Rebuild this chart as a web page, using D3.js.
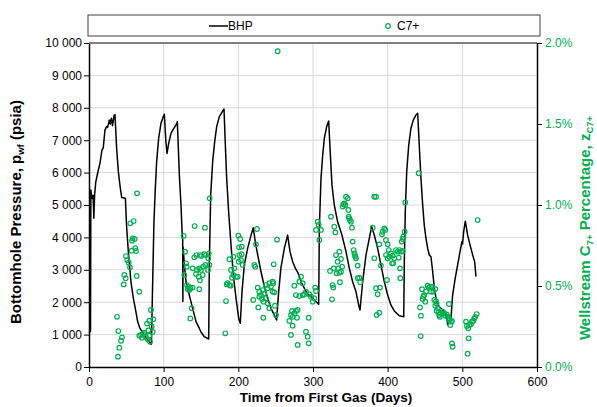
<!DOCTYPE html>
<html>
<head>
<meta charset="utf-8">
<script src="https://cdn.jsdelivr.net/npm/d3@7"></script>
<style>
  body { margin: 0; background: #fff; }
  svg { font-family: "Liberation Sans", Arial, sans-serif; }
</style>
</head>
<body>
<div id="chart"></div>
<script>
// BHP trace (days, psia)
const bhpDay = [0, 2, 2.5, 4, 5.5, 6.5, 7.5, 9, 11.5, 14.7, 17.4, 19, 21.4, 23.5, 25, 27.2, 28.5, 30, 31.5, 33.5, 34.8,
  37, 39.3, 41.5, 43.8, 48.7, 50.5, 53, 56.2, 59.4, 62, 65.2, 68.3, 74, 78.6, 83.5,
  84, 85.3, 87, 88.8, 90.6, 93.3, 96.4, 99.5, 100.9, 103, 104.5, 106.7, 109.8, 113, 116.5, 118.3,
  121, 123.2, 124.6, 125.5, 125.7, 126, 128, 129.9, 134.3, 138.8, 143.3, 147.8, 150, 154.4, 160.3,
  161.2, 163, 165.6, 168.3, 171, 174.6, 177, 179, 180.8, 182.6, 184.4, 187, 190.2, 193.3, 196.9, 200.5, 202.6,
  204.9, 208, 212.5, 217, 220, 222.7, 225.9, 230.4, 234.8, 239.3, 243.7, 248.2, 251.3,
  254, 257, 261.6, 266, 269.2, 272.8, 276.3, 280, 284, 288.4, 293, 297.3, 302, 304, 307.6,
  308.5, 310.7, 313, 315.2, 318.3, 321, 322.8, 325.4, 328.5, 333, 338.8, 344.2, 348.6, 353.1, 357.6, 361.2, 363,
  366.5, 371, 375.4, 378.6, 382.1, 386.6, 391, 395.5, 400, 404.4, 408.9, 415.6, 421.5,
  422.3, 423.6, 425.5, 428.2, 431.2, 434.3, 437.9, 440.2, 442.3, 444.6, 446.9, 449, 451.3, 453.6, 455.7, 458,
  460.3, 462.5, 465.6, 469.1, 473.7, 478, 479.5, 480.4, 482.5, 484.8,
  487, 490.5, 493.7, 496.9, 499.5, 500.3, 501.8, 504, 507.1, 510.3, 513.8, 516.5, 518.3];
const bhpPsi = [1050, 1100, 5460, 5200, 5300, 4590, 5300, 5700, 5980, 6290, 6700, 6750, 7310, 7420, 7400, 7620, 7500, 7680, 7450, 7760, 7790,
  6750, 6030, 5600, 5230, 5210, 4280, 3460, 2630, 2120, 1810, 1400, 1190, 990, 830, 700,
  1200, 2630, 4490, 5510, 6340, 7060, 7520, 7730, 7800, 6950, 6590, 6900, 7210, 7340, 7470, 7570,
  5930, 5000, 4200, 3900, 2020, 3700, 3100, 2630, 2220, 1810, 1400, 1190, 1080, 935, 865,
  3250, 5310, 6340, 6950, 7420, 7730, 7820, 7900, 7960, 6850, 5820, 4790, 3770, 2840, 2120, 1500, 1350,
  2320, 3150, 3660, 4070, 4300, 3870, 3460, 2940, 2480, 2120, 1810, 1600, 1450,
  2320, 3050, 3660, 4070, 3560, 3250, 3050, 2900, 2630, 2430, 2250, 2170, 2070, 2020, 1935,
  4280, 5820, 6540, 7060, 7420, 7590, 6750, 5620, 5000, 4480, 4070, 3560, 3050, 2630, 2320, 1910, 1760,
  2630, 3460, 3970, 4330, 4070, 3660, 3150, 2630, 2220, 1910, 1730, 1580, 1550,
  3250, 4790, 6030, 6850, 7370, 7620, 7780, 7830, 6850, 5820, 5000, 4380, 3970, 3660, 3460, 3400,
  2940, 2430, 2020, 1860, 1760, 1600, 1500, 1300, 1400, 1500,
  2220, 2740, 3150, 3560, 3870, 3800, 4180, 4500, 4070, 3770, 3460, 3250, 2790];

// Wellstream C7+ samples (days, percent)
const c7Day = [64.3, 55.3, 59.8, 58.5, 61.2, 57.6, 62.0, 57.2, 62.9, 49.6, 51.3, 53.2, 54.9, 47.3, 49.1, 46.4, 63.9, 67.4,
  37.5, 39.3, 44.2, 42.9, 40.6, 38.8, 83.0, 86.2, 80.8, 77.7, 85.3, 79.5, 74.1, 69.6, 67.4, 71.0, 76.3, 80.8, 78.6, 81.7, 84.0, 72.5,
  126.8, 128.6, 129.9, 130.8, 127.7, 131.2, 133.5, 135.7, 138.8, 132.2, 134.3, 137.5, 135.7, 141.5, 155.3,
  141.0, 143.7, 148.6, 150.4, 154.4, 156.7, 138.8, 144.6, 147.7, 150.0, 153.1, 155.8, 143.3, 146.9, 148.6, 152.3,
  161.6, 159.8, 161.1, 159.4, 147.7, 160.5,
  183.5, 182.6, 188.0, 193.3, 201.3, 204.5, 190.2, 194.6, 196.9, 199.1, 191.5, 185.7, 188.0, 184.4, 189.7, 193.3,
  200.4, 203.6, 205.8, 200.0, 202.6, 200.9, 204.5, 225.0, 223.6, 221.4, 222.7, 251.8, 247.4,
  225.9, 228.1, 232.6, 237.0, 241.5, 246.0, 243.7, 239.3, 230.4, 228.1, 234.8, 237.0, 239.3, 241.5, 246.0, 248.2,
  231.7, 233.9, 226.7, 220.0, 233.4, 249.1, 250.4, 246.8, 252.7,
  275.0, 277.2, 281.7, 284.0, 286.2, 281.7, 286.2, 288.4, 279.5, 277.2, 275.0, 272.8, 270.5, 271.9, 268.3, 272.8, 270.5, 279.5, 278.6,
  290.6, 295.0, 297.3, 299.6, 301.7, 303.0, 304.0, 294.2, 290.6, 292.9, 294.2,
  306.3, 307.6, 308.5, 304.0, 310.7, 324.1, 328.5, 329.9, 322.8, 327.7, 326.3, 327.2, 325.4,
  330.8, 335.3, 333.0, 337.5, 331.7, 335.3, 339.0, 337.5, 336.1, 333.9,
  339.7, 341.9, 344.2, 346.5, 340.6, 343.3, 347.3, 347.7, 349.5, 350.9, 348.6, 352.2, 353.1, 354.5, 355.3, 356.6, 357.6, 356.2,
  359.8, 359.8, 362.0, 363.3,
  382.1, 384.4, 379.9, 382.1, 388.8, 391.0, 384.4, 389.7, 386.6, 385.2, 388.8, 399.1,
  393.3, 395.5, 396.8, 392.4, 397.7, 400.0, 401.4, 397.7, 402.2, 404.4, 400.0, 406.7, 408.9, 407.5, 405.8,
  411.1, 413.4, 415.6, 417.8, 420.1, 414.8, 416.5, 416.9, 418.8, 421.0, 422.8, 420.1, 423.6, 441.5,
  446.0, 447.7, 446.9, 449.0, 450.4, 451.3, 453.6, 455.0, 456.7, 459.4, 458.0, 461.1, 463.8, 443.3, 444.6, 444.2,
  462.5, 464.7, 465.6, 463.8, 467.0, 465.6, 468.3, 469.1, 470.0, 471.4, 473.7, 475.8, 477.2, 479.0, 480.4, 481.7,
  482.5, 483.9, 484.8, 486.1, 482.1, 486.1, 487.0,
  504.9, 506.2, 508.0, 509.3, 511.6, 512.9, 514.6, 516.0, 517.3, 519.2, 508.5, 507.1, 520.5];
const c7Pct = [1.072, 0.887, 0.901, 0.794, 0.790, 0.780, 0.733, 0.718, 0.716, 0.685, 0.660, 0.644, 0.615, 0.568, 0.548, 0.510, 0.562, 0.465,
  0.310, 0.222, 0.183, 0.162, 0.119, 0.064, 0.352, 0.294, 0.286, 0.268, 0.216, 0.226, 0.212, 0.198, 0.193, 0.181, 0.185, 0.193, 0.171, 0.156, 0.250, 0.205,
  0.809, 0.712, 0.640, 0.619, 0.568, 0.506, 0.496, 0.486, 0.490, 0.480, 0.475, 0.362, 0.300, 0.870, 0.860,
  0.677, 0.691, 0.691, 0.685, 0.696, 0.691, 0.609, 0.599, 0.609, 0.599, 0.619, 0.630, 0.574, 0.557, 0.535, 0.568,
  1.041, 0.671, 0.630, 0.599, 0.480, 0.700,
  0.407, 0.208, 0.665, 0.681, 0.691, 0.696, 0.599, 0.609, 0.557, 0.557, 0.551, 0.517, 0.506, 0.510, 0.502, 0.568,
  0.650, 0.660, 0.630, 0.811, 0.790, 0.739, 0.743, 0.852, 0.757, 0.630, 0.619, 0.786, 0.634,
  0.490, 0.465, 0.475, 0.506, 0.517, 0.527, 0.496, 0.486, 0.444, 0.434, 0.455, 0.424, 0.393, 0.362, 0.465, 0.461,
  0.420, 0.403, 0.368, 0.414, 0.304, 0.378, 0.321, 0.517, 1.949,
  0.502, 0.444, 0.527, 0.557, 0.517, 0.438, 0.444, 0.449, 0.352, 0.346, 0.331, 0.310, 0.321, 0.346, 0.284, 0.255, 0.198, 0.136, 0.304,
  0.465, 0.449, 0.434, 0.403, 0.424, 0.490, 0.469, 0.304, 0.218, 0.187, 0.146,
  0.897, 0.877, 0.784, 0.846, 0.846, 0.928, 0.866, 0.831, 0.593, 0.609, 0.506, 0.490, 0.418,
  0.691, 0.712, 0.650, 0.667, 0.578, 0.582, 0.619, 0.588, 0.523, 0.609,
  0.990, 1.010, 1.051, 1.041, 1.004, 1.000, 0.969, 0.928, 0.907, 0.897, 0.918, 0.860, 0.774, 0.722, 0.702, 0.681, 0.671, 0.691,
  0.626, 0.548, 0.551, 0.523,
  1.051, 1.051, 0.860, 0.671, 0.757, 0.626, 0.486, 0.490, 0.449, 0.321, 0.335, 0.537,
  0.835, 0.856, 0.846, 0.819, 0.784, 0.757, 0.722, 0.691, 0.681, 0.702, 0.671, 0.687, 0.671, 0.640, 0.640,
  0.722, 0.712, 0.722, 0.712, 0.716, 0.675, 0.609, 0.548, 0.774, 0.804, 0.835, 0.790, 1.016, 1.196,
  0.480, 0.434, 0.420, 0.444, 0.403, 0.465, 0.502, 0.490, 0.496, 0.496, 0.465, 0.465, 0.481, 0.368, 0.317, 0.191,
  0.414, 0.407, 0.393, 0.378, 0.362, 0.346, 0.338, 0.321, 0.310, 0.331, 0.341, 0.331, 0.317, 0.325, 0.310, 0.300,
  0.290, 0.259, 0.280, 0.284, 0.389, 0.146, 0.125,
  0.280, 0.253, 0.239, 0.259, 0.264, 0.280, 0.284, 0.300, 0.310, 0.327, 0.177, 0.082, 0.907];

const xTicks = [0, 100, 200, 300, 400, 500, 600];
const psiTicks = [0, 1000, 2000, 3000, 4000, 5000, 6000, 7000, 8000, 9000, 10000];
const pctTicks = [0, 0.5, 1.0, 1.5, 2.0];
const legendLabels = ["BHP", "C7+"];

const WIDTH = 597, HEIGHT = 407;
const margin = { top: 43, right: 60, bottom: 40, left: 89 };
const GREEN = "#00b050";

const svg = d3.select("#chart").append("svg")
  .attr("width", WIDTH).attr("height", HEIGHT);

const x = d3.scaleLinear().domain([0, 600]).range([margin.left, WIDTH - margin.right]);
const yL = d3.scaleLinear().domain([0, 10000]).range([HEIGHT - margin.bottom, margin.top]);
const yR = d3.scaleLinear().domain([0, 2]).range([HEIGHT - margin.bottom, margin.top]);

const fmtPsi = v => v >= 1000 ? d3.format(",")(v).replace(",", " ") : String(v);

// gridlines
const grid = svg.append("g");
grid.selectAll("line.h").data(psiTicks.slice(1, -1)).enter().append("line")
  .attr("x1", x(0)).attr("x2", x(600)).attr("y1", d => yL(d)).attr("y2", d => yL(d))
  .attr("stroke", "#d9d9d9").attr("stroke-width", 1);
grid.selectAll("line.v").data(xTicks.slice(1, -1)).enter().append("line")
  .attr("y1", yL(0)).attr("y2", yL(10000)).attr("x1", d => x(d)).attr("x2", d => x(d))
  .attr("stroke", "#d9d9d9").attr("stroke-width", 1);

// top border
svg.append("line").attr("x1", x(0)).attr("x2", x(600)).attr("y1", yL(10000)).attr("y2", yL(10000))
  .attr("stroke", "#595959").attr("stroke-width", 1.5);

// axes
const axB = svg.append("g").attr("transform", `translate(0,${yL(0)})`)
  .call(d3.axisBottom(x).tickValues(xTicks).tickSize(5).tickSizeOuter(0));
const axL = svg.append("g").attr("transform", `translate(${x(0)},0)`)
  .call(d3.axisLeft(yL).tickValues(psiTicks).tickFormat(fmtPsi).tickSize(5).tickSizeOuter(0));
const axR = svg.append("g").attr("transform", `translate(${x(600)},0)`)
  .call(d3.axisRight(yR).tickValues(pctTicks).tickFormat(d => d.toFixed(1) + "%").tickSize(5).tickSizeOuter(0));

[axB, axL, axR].forEach(a => {
  a.select(".domain").attr("stroke", "#000").attr("stroke-width", 1.5);
  a.selectAll(".tick line").attr("stroke", "#000").attr("stroke-width", 1);
  a.selectAll("text").attr("font-size", 12).attr("font-family", "Liberation Sans, Arial, sans-serif").attr("fill", "#000");
});
axB.selectAll("text").attr("dy", "0.95em");
axR.selectAll("text").attr("fill", GREEN).attr("x", 8);
axL.selectAll("text").attr("x", -7);

// BHP line
const line = d3.line().x((d, i) => x(bhpDay[i])).y((d, i) => yL(bhpPsi[i]));
svg.append("path").datum(bhpDay).attr("d", line)
  .attr("fill", "none").attr("stroke", "#000").attr("stroke-width", 1.5).attr("stroke-linejoin", "round");

// C7+ points
svg.append("g").selectAll("circle").data(c7Day).enter().append("circle")
  .attr("cx", d => x(d)).attr("cy", (d, i) => yR(c7Pct[i])).attr("r", 2.3)
  .attr("fill", "none").attr("stroke", GREEN).attr("stroke-width", 1.2);

// axis titles
svg.append("text").attr("x", 326).attr("y", 402).attr("text-anchor", "middle")
  .attr("font-size", 13.5).attr("font-weight", "bold").text("Time from First Gas (Days)");

const tL = svg.append("text").attr("transform", `translate(21,212) rotate(-90)`)
  .attr("text-anchor", "middle").attr("font-size", 15).attr("font-weight", "bold");
tL.append("tspan").text("Bottomhole Pressure, p");
tL.append("tspan").attr("font-size", 9.5).attr("dy", 3).text("wf");
tL.append("tspan").attr("dy", -3).text(" (psia)");

const tR = svg.append("text").attr("transform", `translate(590,228) rotate(-90)`)
  .attr("text-anchor", "middle").attr("font-size", 15).attr("font-weight", "bold").attr("fill", GREEN);
tR.append("tspan").text("Wellstream C");
tR.append("tspan").attr("font-size", 9.5).attr("dy", 3).text("7+");
tR.append("tspan").attr("dy", -3).text(" Percentage, z");
tR.append("tspan").attr("font-size", 9.5).attr("dy", 3).text("C7+");

// legend
const lg = svg.append("g");
lg.append("rect").attr("x", 88).attr("y", 15).attr("width", 452).attr("height", 21)
  .attr("fill", "#fff").attr("stroke", "#404040").attr("stroke-width", 1);
lg.append("line").attr("x1", 209).attr("x2", 228).attr("y1", 26).attr("y2", 26)
  .attr("stroke", "#000").attr("stroke-width", 1.5);
lg.append("text").attr("x", 228).attr("y", 30).attr("font-size", 12).text(legendLabels[0]);
lg.append("circle").attr("cx", 388).attr("cy", 26).attr("r", 2.3)
  .attr("fill", "none").attr("stroke", GREEN).attr("stroke-width", 1.2);
lg.append("text").attr("x", 397).attr("y", 30).attr("font-size", 12).text(legendLabels[1]);
</script>
</body>
</html>
